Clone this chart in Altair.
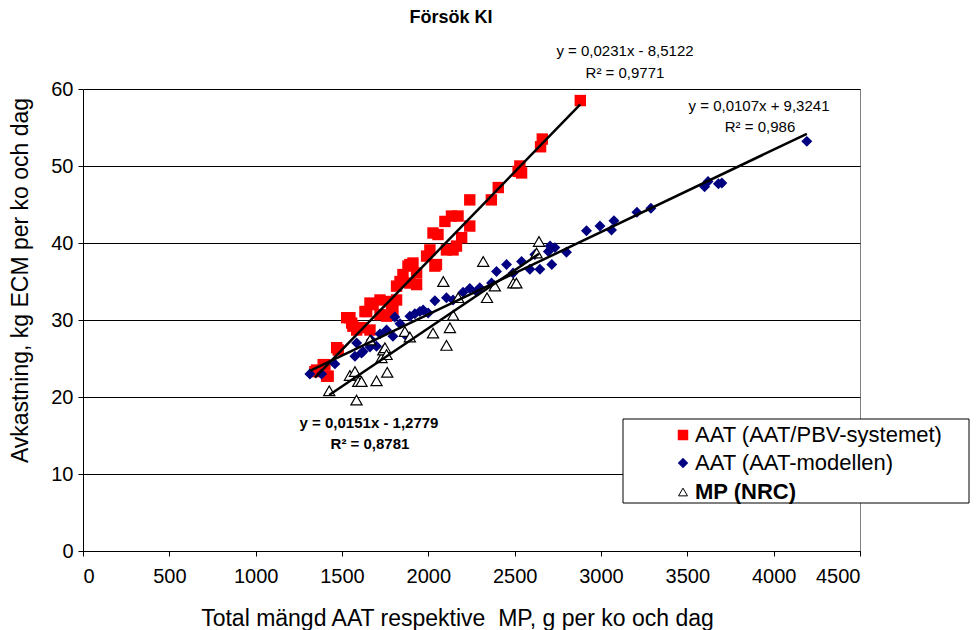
import altair as alt
import pandas as pd

# ---------------- data ----------------
red_x = [1343, 1353, 1391, 1401, 1411, 1420, 1469, 1478, 1527, 1546, 1556, 1563, 1585, 1613,
         1633, 1643, 1662, 1662, 1680, 1720, 1720, 1758, 1777, 1787, 1795, 1816, 1816, 1836,
         1853, 1882, 1893, 1893, 1911, 1932, 1932, 1990, 2009, 2027, 2038, 2047, 2056, 2096,
         2105, 2134, 2143, 2163, 2172, 2193, 2240, 2240, 2365, 2405, 2520, 2530, 2540, 2650,
         2660, 2880]
red_y = [23.3, 23.5, 24.2, 24.2, 22.7, 22.7, 26.4, 26.1, 30.3, 30.3, 29.6, 29.2, 28.7, 29.0,
         31.1, 31.1, 32.2, 28.7, 32.0, 32.6, 30.7, 30.5, 32.4, 31.6, 31.3, 32.6, 34.4, 35.0,
         35.9, 37.0, 34.8, 37.2, 37.4, 36.1, 34.6, 38.3, 39.1, 41.3, 37.0, 37.2, 41.1, 42.8,
         39.1, 43.5, 39.1, 39.6, 43.5, 40.7, 42.2, 45.6, 45.6, 47.2, 49.3, 50.0, 49.1, 52.5,
         53.5, 58.5]

blue_x = [1314, 1382, 1459, 1575, 1585, 1613, 1622, 1662, 1670, 1700, 1720, 1758, 1795, 1806,
          1836, 1874, 1893, 1922, 1951, 1970, 1999, 2038, 2105, 2143, 2201, 2240, 2279, 2298,
          2366, 2395, 2453, 2491, 2540, 2588, 2617, 2646, 2695, 2705, 2715, 2733, 2800, 2916,
          2994, 3061, 3075, 3208, 3289, 3600, 3620, 3680, 3700, 4192]
blue_y = [23.0, 23.0, 24.3, 25.3, 27.0, 25.7, 25.9, 26.5, 27.4, 26.6, 28.2, 28.7, 27.9, 30.4,
          29.5, 27.9, 30.5, 30.8, 31.1, 31.3, 30.9, 32.5, 32.9, 32.6, 33.6, 34.1, 33.7, 34.2,
          34.8, 36.3, 37.2, 36.1, 37.6, 36.6, 38.5, 36.6, 38.9, 39.6, 37.2, 39.4, 38.8, 41.6,
          42.2, 41.7, 42.9, 44.0, 44.5, 47.3, 48.0, 47.7, 47.8, 53.2]

tri_x = [1426, 1546, 1575, 1584, 1594, 1613, 1662, 1700, 1729, 1739, 1749, 1758, 1762, 1864,
         1893, 2027, 2087, 2105, 2125, 2144, 2173, 2318, 2340, 2385, 2492, 2510, 2627, 2641]
tri_y = [20.8, 22.8, 23.3, 19.6, 22.0, 22.0, 27.4, 22.1, 25.1, 26.1, 26.4, 25.5, 23.2, 28.5,
         27.8, 28.3, 35.0, 26.7, 29.0, 30.6, 32.9, 37.6, 32.9, 34.4, 34.8, 34.8, 38.7, 40.2]

series_names = ["AAT (AAT/PBV-systemet)", "AAT (AAT-modellen)", "MP (NRC)"]
slopes = [0.0231, 0.0107, 0.0151]
intercepts = [-8.5122, 9.3241, -1.2779]
eq_labels = ["y = 0,0231x - 8,5122", "y = 0,0107x + 9,3241", "y = 0,0151x - 1,2779"]
r2_labels = ["R² = 0,9771", "R² = 0,986", "R² = 0,8781"]

x_ticks = [0, 500, 1000, 1500, 2000, 2500, 3000, 3500, 4000, 4500]
y_ticks = [0, 10, 20, 30, 40, 50, 60]

title_text = "Försök KI"
# non-breaking space keeps the double space of the original
x_title = "Total mängd AAT respektive \u00a0MP, g per ko och dag"
y_title = "Avkastning, kg ECM per ko och dag"

FONT = "Liberation Sans"

# ---------------- tables ----------------
xs = [red_x, blue_x, tri_x]
ys = [red_y, blue_y, tri_y]
dfs = [pd.DataFrame({"x": a, "y": b, "series": n}) for a, b, n in zip(xs, ys, series_names)]

trend_rows = []
for n, a, b, xv in zip(series_names, slopes, intercepts, xs):
    for xe in (min(xv), max(xv)):
        trend_rows.append({"series": n, "x": xe, "y": a * xe + b})
trend_df = pd.DataFrame(trend_rows)

# ---------------- encodings ----------------
x_enc = alt.X("x:Q",
              scale=alt.Scale(domain=[0, 4500], nice=False, zero=False),
              axis=alt.Axis(values=x_ticks, format="d", grid=False, title=x_title,
                            titleX=374, titleY=74, titleBaseline="alphabetic",
                            titleAlign="center", titleAnchor="middle",
                            labelPadding=10, tickSize=5))
y_enc = alt.Y("y:Q",
              scale=alt.Scale(domain=[0, 60], nice=False, zero=False),
              axis=alt.Axis(values=y_ticks, grid=True, title=y_title,
                            titleX=-56, titleY=191, titleBaseline="alphabetic",
                            titleAlign="center", titleAngle=270,
                            labelPadding=5, tickSize=5))

red_layer = alt.Chart(dfs[0]).mark_point(shape="square", filled=True, color="#FF0000",
                                         size=130, opacity=1).encode(x=x_enc, y=y_enc)
blue_layer = alt.Chart(dfs[1]).mark_point(shape="diamond", filled=True, color="#000080",
                                          size=120, opacity=1).encode(x=x_enc, y=y_enc)
tri_layer = alt.Chart(dfs[2]).mark_point(shape="triangle-up", filled=True, fill="white",
                                         stroke="black", strokeWidth=1.2, size=125,
                                         opacity=1).encode(x=x_enc, y=y_enc)
trend_layer = alt.Chart(trend_df).mark_line(color="black", strokeWidth=2.5).encode(
    x=x_enc, y=y_enc, detail="series:N")


def text_layer(txt, px, py, size=15, weight="normal", align="center", baseline="middle"):
    return alt.Chart(pd.DataFrame({"t": [txt]})).mark_text(
        font=FONT, fontSize=size, fontWeight=weight, align=align, baseline=baseline,
        color="black").encode(text="t:N", x=alt.value(px), y=alt.value(py))


annotations = [
    text_layer(title_text, 368, -71, size=18, weight="bold"),
    text_layer(eq_labels[0], 542, -38),
    text_layer(r2_labels[0], 542, -16),
    text_layer(eq_labels[1], 676, 17),
    text_layer(r2_labels[1], 677, 38),
    text_layer(eq_labels[2], 286, 334, weight="bold"),
    text_layer(r2_labels[2], 287, 355, weight="bold"),
]

# ---------------- legend (drawn by hand to allow one bold label) ----------------
legend_box = alt.Chart(pd.DataFrame({"a": [0]})).mark_rect(
    fill="white", stroke="black", strokeWidth=1).encode(
    x=alt.value(540), x2=alt.value(886), y=alt.value(330), y2=alt.value(414))

leg_rows = [(346, "square", "#FF0000", "#FF0000"),
            (374, "diamond", "#000080", "#000080"),
            (403, "triangle-up", "white", "black")]
legend_layers = [legend_box]
for (ly, shp, fillc, strokec), name in zip(leg_rows, series_names):
    legend_layers.append(
        alt.Chart(pd.DataFrame({"a": [0]})).mark_point(
            shape=shp, filled=True, fill=fillc, stroke=strokec,
            strokeWidth=1 if shp == "triangle-up" else 0,
            size=110 if shp != "triangle-up" else 80, opacity=1).encode(
            x=alt.value(600), y=alt.value(ly)))
    legend_layers.append(
        text_layer(name, 612, ly, size=22,
                   weight="bold" if name == "MP (NRC)" else "normal", align="left"))

chart = alt.layer(red_layer, blue_layer, tri_layer, trend_layer,
                  *annotations, *legend_layers).properties(
    width=777, height=462,
    background="white",
    autosize=alt.AutoSizeParams(type="none"),
    padding={"left": 75, "top": 81, "right": 112, "bottom": 79},
).configure_view(
    stroke="#808080", strokeWidth=1
).configure_axis(
    labelFont=FONT, labelFontSize=20, labelColor="black",
    titleFont=FONT, titleFontSize=23, titleFontWeight="normal", titleColor="black",
    domainColor="black", domainWidth=1, tickColor="black", tickWidth=1,
    gridColor="black", gridWidth=1, gridOpacity=1,
)

chart.save("out.html", embed_options={"renderer": "svg", "actions": False})
